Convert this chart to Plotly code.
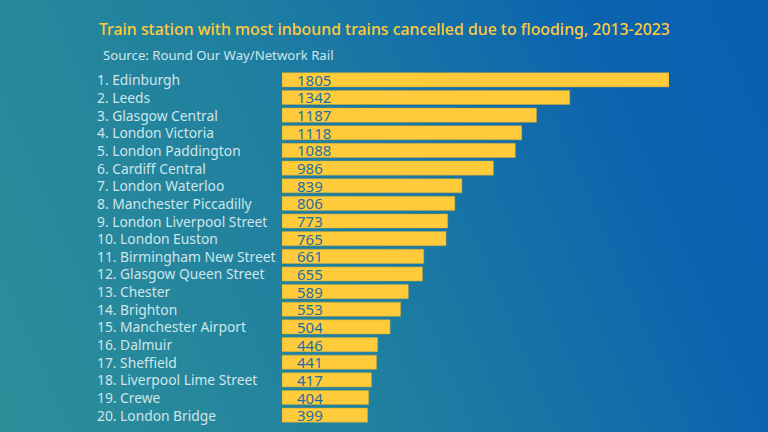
import base64
import plotly.graph_objects as go

ranks = ["1. ", "2. ", "3. ", "4. ", "5. ", "6. ", "7. ", "8. ", "9. ", "10. ", "11. ", "12. ", "13. ", "14. ", "15. ", "16. ", "17. ", "18. ", "19. ", "20. "]
stations = ["Edinburgh", "Leeds", "Glasgow Central", "London Victoria", "London Paddington", "Cardiff Central",
            "London Waterloo", "Manchester Piccadilly", "London Liverpool Street", "London Euston",
            "Birmingham New Street", "Glasgow Queen Street", "Chester", "Brighton", "Manchester Airport",
            "Dalmuir", "Sheffield", "Liverpool Lime Street", "Crewe", "London Bridge"]
cancelled = [1805, 1342, 1187, 1118, 1088, 986, 839, 806, 773, 765, 661, 655, 589, 553, 504, 446, 441, 417, 404, 399]
labels = [r + s for r, s in zip(ranks, stations)]

W, H = 768, 432
L, R, T, B = 282, 99, 71, 8
FONT = "Noto Sans"
YEL = "#FFCB3A"

svg = f'''<svg xmlns="http://www.w3.org/2000/svg" width="{W}" height="{H}" viewBox="0 0 {W} {H}" preserveAspectRatio="none">
<defs><linearGradient id="g" gradientUnits="userSpaceOnUse" x1="0" y1="432" x2="768" y2="100">
<stop offset="0" stop-color="#2D8F99"/><stop offset="0.45" stop-color="#1F7FA0"/><stop offset="0.85" stop-color="#0B63AF"/><stop offset="1" stop-color="#0A60B0"/>
</linearGradient></defs><rect width="{W}" height="{H}" fill="url(#g)"/></svg>'''
src = "data:image/svg+xml;base64," + base64.b64encode(svg.encode()).decode()

fig = go.Figure(go.Bar(
    x=cancelled, y=labels, orientation="h", width=0.8,
    marker=dict(color=YEL, line=dict(color="#C9A640", width=0.5)),
    hoverinfo="skip",
))

annotations = []
px = W - L - R
for lab, v in zip(labels, cancelled):
    annotations.append(dict(x=(95 - L) / px, xref="paper", y=lab, yref="y", text=lab, showarrow=False,
                            xanchor="left", yanchor="middle", font=dict(family=FONT, size=13.8, color="#CFE6EA")))
    annotations.append(dict(x=0, xref="x", xshift=13, y=lab, yref="y", text=str(v), showarrow=False,
                            xanchor="left", yanchor="middle", font=dict(family=FONT, size=15, color="#1E6FA5")))
annotations.append(dict(x=(97 - L) / px, xref="paper", y=(H - 29 - B) / (H - T - B), yref="paper",
                        text="Train station with most inbound trains cancelled due to flooding, 2013-2023",
                        showarrow=False, xanchor="left", yanchor="middle",
                        font=dict(family=FONT, size=15.85, weight=500, color="#FFCB3A")))
annotations.append(dict(x=(101 - L) / px, xref="paper", y=(H - 55 - B) / (H - T - B), yref="paper",
                        text="Source: Round Our Way/Network Rail", showarrow=False, xanchor="left", yanchor="middle",
                        font=dict(family=FONT, size=13.2, color="#CFE6EA")))

fig.update_layout(
    width=W, height=H, margin=dict(l=L, r=R, t=T, b=B), showlegend=False,
    paper_bgcolor="#1F7FA0", plot_bgcolor="rgba(0,0,0,0)",
    xaxis=dict(range=[0, 1805], visible=False, fixedrange=True),
    yaxis=dict(autorange=False, range=[19.5, -0.5], visible=False, fixedrange=True, type="category",
               categoryorder="array", categoryarray=labels),
    annotations=annotations,
    images=[dict(source=src, xref="paper", yref="paper", x=-L / px, y=(H - B) / (H - T - B),
                 sizex=W / px, sizey=H / (H - T - B), xanchor="left", yanchor="top",
                 sizing="stretch", layer="below")],
)
fig.write_html("out.html", config=dict(displayModeBar=False),
               post_script="document.body.style.margin='0';document.body.style.overflow='hidden';")
